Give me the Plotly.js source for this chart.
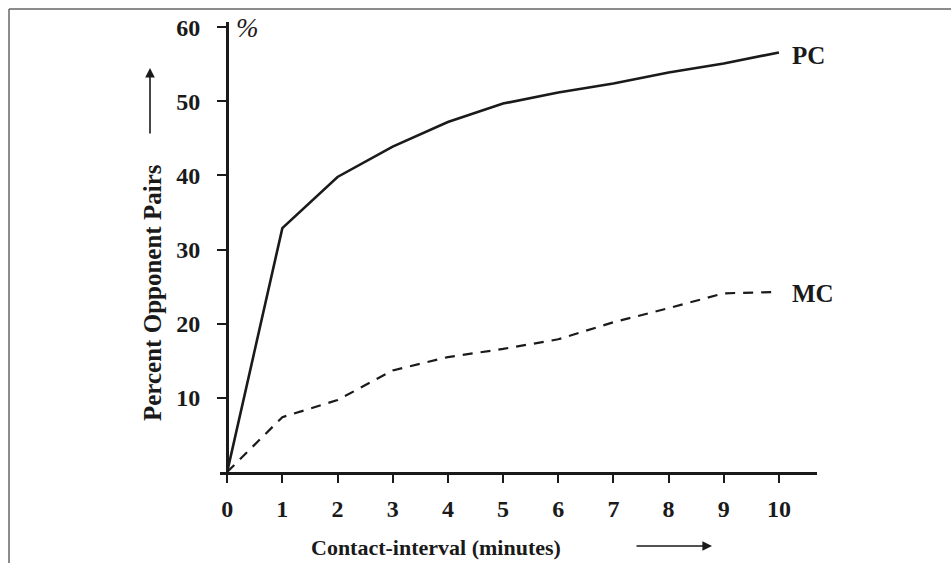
<!DOCTYPE html>
<html>
<head>
<meta charset="utf-8">
<script src="https://cdn.plot.ly/plotly-3.0.1.min.js"></script>
<style>
html,body{margin:0;padding:0;background:#fff;}
#chart{width:951px;height:563px;}
</style>
</head>
<body>
<div id="chart"></div>
<script>
// Data
const minutes = [0, 1, 2, 3, 4, 5, 6, 7, 8, 9, 10];
const pcValues = [0, 32.9, 39.8, 43.9, 47.2, 49.7, 51.2, 52.4, 53.9, 55.1, 56.6];
const mcValues = [0, 7.4, 9.7, 13.7, 15.5, 16.6, 17.9, 20.2, 22.1, 24.1, 24.3];
const xTickVals = [0, 1, 2, 3, 4, 5, 6, 7, 8, 9, 10];
const yTickVals = [10, 20, 30, 40, 50, 60];
const seriesNames = ['PC', 'MC'];

const ink = '#1a1a1a';
const serif = 'Liberation Serif, Times New Roman, serif';

const traces = [
  {x: minutes, y: pcValues, name: seriesNames[0], mode: 'lines', type: 'scatter',
   line: {color: ink, width: 2.6}},
  {x: minutes, y: mcValues, name: seriesNames[1], mode: 'lines', type: 'scatter',
   line: {color: ink, width: 2.2, dash: '10px,8px'}}
];

function px(xp) { return (xp - 220) / 597; }
function py(yp) { return (472 - yp) / 450; }

const layout = {
  width: 951, height: 563,
  margin: {l: 220, r: 134, t: 22, b: 91},
  paper_bgcolor: '#fff', plot_bgcolor: '#fff',
  showlegend: false,
  xaxis: {
    range: [-0.13, 10.69], tickvals: xTickVals, ticktext: xTickVals.map(String),
    showgrid: false, zeroline: false, showline: true, linecolor: ink, linewidth: 2.5,
    ticks: 'outside', ticklen: 8, tickwidth: 2, tickcolor: ink, ticklabelstandoff: 6,
    tickfont: {family: serif, size: 24, color: ink, weight: 'bold'}
  },
  yaxis: {
    range: [0, 60.7], tickvals: yTickVals, ticktext: yTickVals.map(String),
    anchor: 'free', position: 7/597,
    showgrid: false, zeroline: false, showline: true, linecolor: ink, linewidth: 2.5,
    ticks: 'outside', ticklen: 9, tickwidth: 2, tickcolor: ink, ticklabelstandoff: 12,
    tickfont: {family: serif, size: 24, color: ink, weight: 'bold'}
  },
  annotations: [
    {xref: 'paper', yref: 'paper', x: px(152), y: py(293), xanchor: 'center', yanchor: 'middle',
     textangle: -90, text: 'Percent Opponent Pairs', showarrow: false,
     font: {family: serif, size: 25, color: ink, weight: 'bold'}},
    {xref: 'paper', yref: 'paper', x: px(436), y: py(547), xanchor: 'center', yanchor: 'middle',
     text: 'Contact-interval (minutes)', showarrow: false,
     font: {family: serif, size: 22, color: ink, weight: 'bold'}},
    {xref: 'paper', yref: 'paper', x: px(150), y: py(68), text: '',
     showarrow: true, ax: 0, ay: 67, arrowhead: 2, arrowsize: 1.2, arrowwidth: 1.6, arrowcolor: ink},
    {xref: 'paper', yref: 'paper', x: px(712), y: py(546), text: '',
     showarrow: true, ax: -77, ay: 0, arrowhead: 2, arrowsize: 1.2, arrowwidth: 1.6, arrowcolor: ink},
    {xref: 'paper', yref: 'paper', x: px(247), y: py(28), xanchor: 'center', yanchor: 'middle',
     text: '%', showarrow: false, font: {family: serif, size: 27, color: ink, style: 'italic'}},
    {xref: 'paper', yref: 'paper', x: px(808), y: py(55), xanchor: 'center', yanchor: 'middle',
     text: 'PC', showarrow: false, font: {family: serif, size: 25, color: ink, weight: 'bold'}},
    {xref: 'paper', yref: 'paper', x: px(813), y: py(293), xanchor: 'center', yanchor: 'middle',
     text: 'MC', showarrow: false, font: {family: serif, size: 25, color: ink, weight: 'bold'}}
  ],
  shapes: [
    {type: 'line', xref: 'paper', yref: 'paper', x0: px(9), x1: px(951),
     y0: py(9), y1: py(9), line: {color: '#666', width: 1.5}},
    {type: 'line', xref: 'paper', yref: 'paper', x0: px(9), x1: px(9),
     y0: py(9), y1: py(563), line: {color: '#666', width: 1.5}}
  ]
};

Plotly.newPlot('chart', traces, layout, {staticPlot: true, displayModeBar: false});
</script>
</body>
</html>
